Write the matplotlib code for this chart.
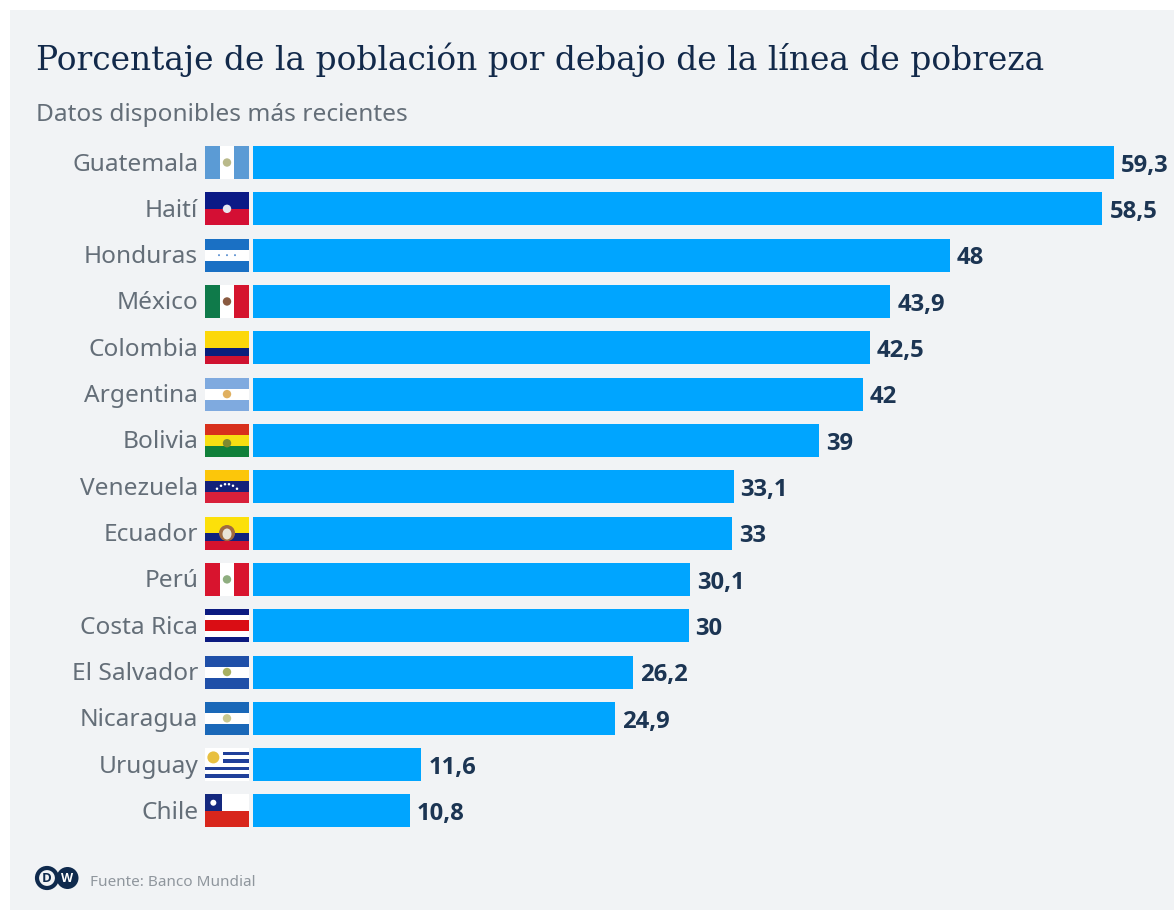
import matplotlib
matplotlib.use("Agg")
import matplotlib.pyplot as plt
from matplotlib.patches import Rectangle, Ellipse, Circle
from matplotlib.transforms import ScaledTranslation

# Data
countries = ["Guatemala", "Haití", "Honduras", "México", "Colombia", "Argentina", "Bolivia", "Venezuela",
             "Ecuador", "Perú", "Costa Rica", "El Salvador", "Nicaragua", "Uruguay", "Chile"]
values = [59.3, 58.5, 48, 43.9, 42.5, 42, 39, 33.1, 33, 30.1, 30, 26.2, 24.9, 11.6, 10.8]

# Flags: direction, stripe colours, stripe weights, emblem colour
flags = {
    "Guatemala": ("v", ["#5b9bd5", "#ffffff", "#5b9bd5"], [1, 1, 1], "#b9b98a"),
    "Haití": ("h", ["#0b1a86", "#d40f34"], [1, 1], "#e8e8f0"),
    "Honduras": ("h", ["#1a70c4", "#ffffff", "#1a70c4"], [1, 1, 1], None),
    "México": ("v", ["#0f7a4a", "#ffffff", "#d5142e"], [1, 1, 1], "#8a5a40"),
    "Colombia": ("h", ["#fcd80a", "#0a1f7c", "#cf1230"], [2, 1, 1], None),
    "Argentina": ("h", ["#7faadf", "#ffffff", "#7faadf"], [1, 1, 1], "#e0b060"),
    "Bolivia": ("h", ["#d8301c", "#f7df12", "#10803a"], [1, 1, 1], "#7f8a30"),
    "Venezuela": ("h", ["#fcc60a", "#14217a", "#d8203a"], [1, 1, 1], None),
    "Ecuador": ("h", ["#fce00a", "#10227e", "#d4122e"], [2, 1, 1], "#a06a40"),
    "Perú": ("v", ["#d8142e", "#ffffff", "#d8142e"], [1, 1, 1], "#8fae80"),
    "Costa Rica": ("h", ["#0b1a80", "#ffffff", "#da0d14", "#ffffff", "#0b1a80"], [1, 1, 2, 1, 1], None),
    "El Salvador": ("h", ["#1f4fa8", "#ffffff", "#1f4fa8"], [1, 1, 1], "#a8b060"),
    "Nicaragua": ("h", ["#1a68b8", "#ffffff", "#1a68b8"], [1, 1, 1], "#c8c890"),
    "Uruguay": ("h", ["#ffffff", "#20409a"] * 4 + ["#ffffff"], [1] * 9, None),
    "Chile": ("h", ["#ffffff", "#d8261c"], [1, 1], None),
}

title = "Porcentaje de la población por debajo de la línea de pobreza"
subtitle = "Datos disponibles más recientes"
source = "Fuente: Banco Mundial"

W, H = 1174, 911
plt.rcParams["font.family"] = ["Noto Sans", "DejaVu Sans"]
fig = plt.figure(figsize=(W / 100, H / 100), dpi=100, facecolor="white")

# Background layer in pixel coordinates
bg = fig.add_axes([0, 0, 1, 1], zorder=0)
bg.set_xlim(0, W)
bg.set_ylim(H, 0)
bg.axis("off")
bg.add_patch(Rectangle((10, 10), W - 10, 900, color="#f1f3f5", lw=0))

bg.text(36, 59.5, title, family="DejaVu Serif", fontsize=23.7, color="#12294a", va="center", ha="left")
bg.text(36, 115, subtitle, fontsize=17.6, color="#646e78", va="center", ha="left")
bg.text(90, 883, source, fontsize=11, color="#8f969d", va="center", ha="left")

# DW logo
navy = "#0f2a4d"
bg.add_patch(Circle((67.5, 878), 11, color=navy, lw=0))
bg.add_patch(Ellipse((47, 878), 20, 20, facecolor="#f1f3f5", edgecolor=navy, lw=3))
bg.text(47, 878, "D", family="Open Sans", fontsize=9.5, fontweight="bold", color=navy, ha="center", va="center")
bg.text(67.5, 878, "W", family="Open Sans", fontsize=9, fontweight="bold", color="white", ha="center", va="center")

# Bars: 14.52 px per unit, rows 46.3 px apart
px = 1 / 14.52
top, bottom = 139.35, 834.15
left = 253
ax = fig.add_axes([left / W, 1 - bottom / H, (W - left) / W, (bottom - top) / H], zorder=1)
ax.patch.set_alpha(0)
ypos = list(range(len(countries)))
bar_h = 33 / 46.3
ax.barh(ypos, values, height=bar_h, color="#00a5ff")
ax.set_xlim(0, (W - left) * px)
ax.set_ylim(len(countries) - 0.5, -0.5)
ax.set_yticks(ypos)
ax.set_yticklabels(countries, fontsize=17.6, color="#646e78")
ax.tick_params(axis="y", length=0, pad=39.5)
ax.tick_params(axis="x", bottom=False, labelbottom=False)
for s in ax.spines.values():
    s.set_visible(False)
# labels sit a little above the bar centre
shift = ScaledTranslation(0, 0.7 / 72, fig.dpi_scale_trans)
for lbl in ax.get_yticklabels():
    lbl.set_transform(lbl.get_transform() + shift)

for y, v in zip(ypos, values):
    label = f"{v:g}".replace(".", ",")
    ax.text(v + 7 * px, y + 0.07, label, family="Open Sans", fontsize=17.2, fontweight="bold", color="#1c3553",
            va="center", ha="left")

# Flags sit left of the bars
fx0, fw = -48 * px, 44 * px
for y, name in zip(ypos, countries):
    direction, colours, weights, emblem = flags[name]
    total = sum(weights)
    pos = 0
    for c, w in zip(colours, weights):
        if direction == "h":
            r = Rectangle((fx0, y - bar_h / 2 + bar_h * pos / total), fw, bar_h * w / total, color=c, lw=0, clip_on=False)
        else:
            r = Rectangle((fx0 + fw * pos / total, y - bar_h / 2), fw * w / total, bar_h, color=c, lw=0, clip_on=False)
        ax.add_patch(r)
        pos += w
    if emblem:
        size = 2.3 if name == "Ecuador" else 1.2
        ax.add_patch(Ellipse((fx0 + fw / 2, y + (0.06 if name == "Bolivia" else 0)), 7 * size * px, 7 * size / 46.3,
                             color=emblem, lw=0, clip_on=False))
    if name == "Ecuador":
        ax.add_patch(Ellipse((fx0 + fw / 2, y + 0.02), 9 * px, 11 / 46.3, color="#e8e4d8", lw=0, clip_on=False))
    if name == "Honduras":
        for dx in [-8, 0, 8]:
            ax.add_patch(Ellipse((fx0 + fw / 2 + dx * px, y), 2 * px, 2 / 46.3, color="#5a8fd0", lw=0, clip_on=False))
    if name == "Uruguay":
        ax.add_patch(Rectangle((fx0, y - bar_h / 2), fw * 0.4, bar_h * 5 / 9, color="#ffffff", lw=0, clip_on=False))
        ax.add_patch(Ellipse((fx0 + fw * 0.19, y - bar_h * 0.22), 12 * px, 12 / 46.3, color="#e8c040", lw=0, clip_on=False))
    if name == "Chile":
        ax.add_patch(Rectangle((fx0, y - bar_h / 2), fw * 0.38, bar_h / 2, color="#14287e", lw=0, clip_on=False))
        ax.add_patch(Ellipse((fx0 + fw * 0.19, y - bar_h / 4), 6 * px, 6 / 46.3, color="#ffffff", lw=0, clip_on=False))
    if name == "Venezuela":
        for dx, dy in [(-10, 2), (-6, -1), (-2, -2.5), (2, -2.5), (6, -1), (10, 2)]:
            ax.add_patch(Ellipse((fx0 + fw / 2 + dx * px, y + dy / 46.3), 2.5 * px, 2.5 / 46.3, color="#ffffff", lw=0, clip_on=False))

fig.savefig("out.png", dpi=100)
